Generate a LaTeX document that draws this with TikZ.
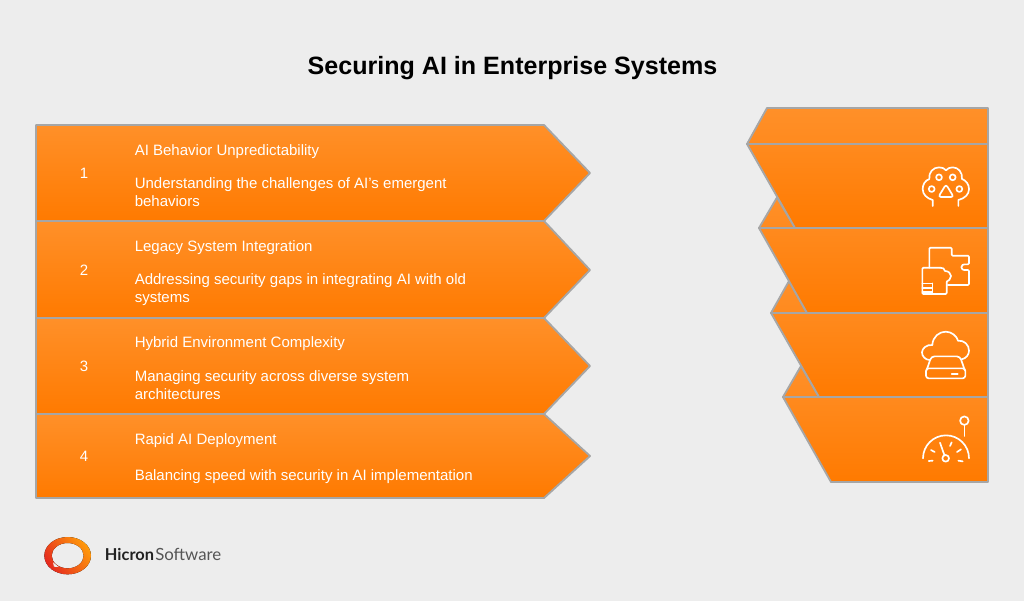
\documentclass[tikz,border=0pt]{standalone}
\usepackage{fontspec}
\setmainfont{Liberation Sans}
\newfontfamily\logofont{Lato}
\definecolor{bgc}{HTML}{EDEDED}
\definecolor{edgec}{HTML}{A6A6A6}
\definecolor{orangetop}{HTML}{FF9029}
\definecolor{orangemid}{HTML}{FF8A1E}
\definecolor{orangebot}{HTML}{FF7A00}
\definecolor{logored}{HTML}{E5291F}
\definecolor{logoorange}{HTML}{FF9A0A}
\definecolor{logodark}{HTML}{222222}
\definecolor{logogray}{HTML}{555555}
\tikzset{
  band/.style={draw=edgec,line width=1.4pt,line join=round,top color=orangetop,bottom color=orangebot},
  lowerband/.style={draw=edgec,line width=1.4pt,line join=round,top color=orangemid,bottom color=orangebot},
  wedge/.style={draw=edgec,line width=1.4pt,line join=round,top color=orangetop,bottom color=orangemid},
  rowtext/.style={anchor=base west,inner sep=0pt,text=white,font=\fontsize{11.26pt}{13pt}\selectfont},
  rownum/.style={anchor=center,inner sep=0pt,text=white,font=\fontsize{11.26pt}{13pt}\selectfont},
  iconline/.style={draw=white,line width=1.25pt,line cap=round,line join=round},
  zoomA/.style={x=0.25pt,y=-0.25pt}
}
\begin{document}
\begin{tikzpicture}[x=0.75pt,y=-0.75pt]
\fill[bgc] (0,0) rectangle (1024,601);
\useasboundingbox (0,0) rectangle (1024,601);

\node[anchor=base,inner sep=0pt,font=\fontsize{18.8pt}{22pt}\selectfont\bfseries] (title) at (512.5,74.5) {Securing AI in Enterprise Systems};

% left bands
\path[band] (36,125) -- (544,125) -- (590,173) -- (544,221) -- (36,221) -- cycle;
\path[band] (36,221) -- (544,221) -- (590,270) -- (544,318) -- (36,318) -- cycle;
\path[band] (36,318) -- (544,318) -- (590,366) -- (544,414) -- (36,414) -- cycle;
\path[band] (36,414) -- (544,414) -- (590,456) -- (544,498) -- (36,498) -- cycle;

\node[rownum] (n1) at (84,173.5) {1};
\node[rowtext] (t1a) at (134.5,155) {AI Behavior Unpredictability};
\node[rowtext] (t1b) at (134.5,188) {Understanding the challenges of AI's emergent};
\node[rowtext] (t1c) at (134.5,206) {behaviors};

\node[rownum] (n2) at (84,270) {2};
\node[rowtext] (t2a) at (134.5,251) {Legacy System Integration};
\node[rowtext] (t2b) at (134.5,284) {Addressing security gaps in integrating AI with old};
\node[rowtext] (t2c) at (134.5,302) {systems};

\node[rownum] (n3) at (84,366.5) {3};
\node[rowtext] (t3a) at (134.5,347) {Hybrid Environment Complexity};
\node[rowtext] (t3b) at (134.5,381) {Managing security across diverse system};
\node[rowtext] (t3c) at (134.5,399) {architectures};

\node[rownum] (n4) at (84,456.5) {4};
\node[rowtext] (t4a) at (134.5,444) {Rapid AI Deployment};
\node[rowtext] (t4b) at (134.5,480) {Balancing speed with security in AI implementation};

% right funnel
\path[wedge] (777,197.5) -- (759,228) -- (795,228) -- cycle;
\path[wedge] (789,281) -- (771,313) -- (807,313) -- cycle;
\path[wedge] (801,366) -- (783,397) -- (819,397) -- cycle;
\path[wedge] (767,108) -- (988,108) -- (988,144) -- (747,144) -- cycle;
\path[lowerband] (747,144) -- (988,144) -- (988,228) -- (795,228) -- cycle;
\path[lowerband] (759,228) -- (988,228) -- (988,313) -- (807,313) -- cycle;
\path[lowerband] (771,313) -- (988,313) -- (988,397) -- (819,397) -- cycle;
\path[lowerband] (783,397) -- (988,397) -- (988,482) -- (831,482) -- cycle;

% paw icon
\begin{scope}[shift={(730,95)},zoomA]
\draw[iconline] (608,333) -- (608,315) .. controls (590,310) and (578,298) .. (578,282)
  .. controls (578,268) and (586,256) .. (598,252) .. controls (595,232) and (610,217) .. (627,217)
  .. controls (636,217) and (644,220) .. (648,226) .. controls (652,220) and (660,217) .. (668,217)
  .. controls (685,217) and (698,232) .. (696,252) .. controls (708,256) and (717,268) .. (717,282)
  .. controls (717,298) and (705,310) .. (685,315) -- (685,333);
\draw[iconline] (627,247) circle [radius=2.2pt];
\draw[iconline] (668,247) circle [radius=2.2pt];
\draw[iconline] (605,282) circle [radius=2.2pt];
\draw[iconline] (688,282) circle [radius=2.2pt];
\draw[iconline,rounded corners=2pt] (648,268) -- (671,306) -- (625,306) -- cycle;
\end{scope}

% floor plan icon
\begin{scope}[shift={(905,240)},zoomA]
\draw[iconline,rounded corners=0.8pt] (73,83) -- (73,23) -- (140,23) -- (140,47) -- (192,47) -- (192,73) -- (175,73)
  .. controls (168,78) and (168,85) .. (175,90) -- (192,90) -- (192,135) -- (128,135);
\draw[iconline,rounded corners=0.8pt] (105,83) -- (52,83) -- (52,162) -- (125,162) -- (125,125);
\draw[iconline] (105,83) .. controls (113,83) and (120,86) .. (120,93)
  .. controls (130,93) and (138,100) .. (138,108) .. controls (138,118) and (130,122) .. (125,125);
\draw[iconline] (52,130) -- (82,130) (52,143) -- (82,143) (52,155) -- (82,155) (82,130) -- (82,162);
\end{scope}

% cloud icon
\begin{scope}[shift={(730,290)},zoomA]
\draw[iconline] (600,210) .. controls (585,210) and (576,198) .. (576,187)
  .. controls (576,175) and (590,163) .. (607,165) .. controls (608,140) and (628,125) .. (647,125)
  .. controls (665,125) and (680,138) .. (684,152) .. controls (703,150) and (717,165) .. (717,182)
  .. controls (717,195) and (708,205) .. (695,208);
\draw[iconline,rounded corners=2pt] (588,235) rectangle (706,265);
\draw[iconline,rounded corners=2.5pt] (590,240) -- (604,199) -- (690,199) -- (704,240);
\draw[iconline] (665,251) -- (683,251);
% gauge icon
\draw[iconline] (703,392) circle [radius=3.2pt];
\draw[iconline] (703,405) -- (703,438);
\draw[iconline] (579,505) arc [start angle=180,end angle=0,radius=17.25pt];
\draw[iconline] (647,505) circle [radius=2.5pt];
\draw[iconline] (630,458) -- (643,495);
\draw[iconline] (603,480) -- (614,486) (665,457) -- (660,468) (693,478) -- (681,486) (596,513) -- (608,512) (685,512) -- (698,514);
\end{scope}

% logo
\begin{scope}[shift={(30,520)},zoomA]
\fill[logored] (56,118) -- (64,148) -- (100,156) -- (100,148) -- (80,138) -- (66,125) -- cycle;
\fill[even odd rule,left color=logored,right color=logoorange,shading angle=125]
  (113,107) ellipse [x radius=17.5pt,y radius=14pt]
  (113,107) ellipse [x radius=12pt,y radius=9.5pt];
\fill[bgc] (69,127) -- (72,140) -- (86,141) -- cycle;
\node[anchor=base west,inner sep=0pt,text=logodark,font=\logofont\fontsize{12.3pt}{14pt}\selectfont\bfseries] (hicron) at (224,122) {Hicron};
\node[anchor=base west,inner sep=0pt,text=logogray,font=\logofont\fontsize{12.6pt}{14pt}\selectfont] (software) at (375,122) {Software};
\end{scope}
\end{tikzpicture}
\end{document}
